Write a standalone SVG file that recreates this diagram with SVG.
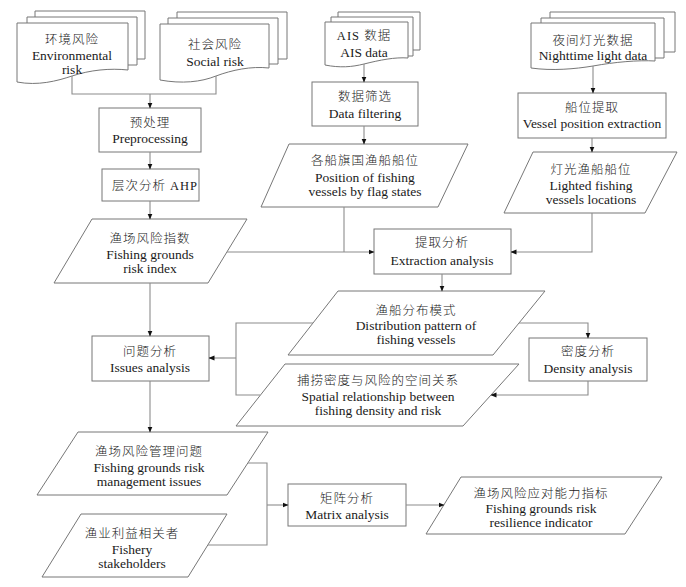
<svg xmlns="http://www.w3.org/2000/svg" width="686" height="587" viewBox="0 0 686 587">
<defs>
<marker id="ah" markerWidth="6" markerHeight="6" refX="5.5" refY="3" orient="auto" markerUnits="userSpaceOnUse">
<path d="M0,0.5 L6,3 L0,5.5 Z" fill="#111"/>
</marker>
<style>
.s{fill:#fff;stroke:#777;stroke-width:1}
.p{fill:none;stroke:#777;stroke-width:1}
.c{fill:none;stroke:#8c8c8c;stroke-width:1.1}
.a{marker-end:url(#ah)}
text{fill:#1a1a1a;text-anchor:middle;dominant-baseline:central}
.cn{font-family:"Liberation Serif","Noto Sans CJK SC",serif;font-size:12.5px;letter-spacing:1px;font-weight:300}
.en{font-family:"Liberation Serif","Noto Sans CJK SC",serif;font-size:13.5px}
</style>
</defs>
<rect width="686" height="587" fill="#fff"/>

<g id="env">
<path class="p" d="M35,17 V11 H145 V59 H137"/>
<path class="p" d="M27,23 V17 H137 V65 H128"/>
<path class="s" d="M17,23 H128 V70 C110,68 90,70 72,76 C57,81 38,86 17,82 Z"/>
<text class="cn" x="72" y="40">环境风险</text>
<text class="en" x="72" y="55">Environmental</text>
<text class="en" x="72" y="69">risk</text>
</g>

<g id="social">
<path class="p" d="M177,18 V12 H287 V59 H278"/>
<path class="p" d="M168,24 V18 H278 V64 H269"/>
<path class="s" d="M160,24 H269 V68 C251,66 232,70 216,76 C201,82 182,84 160,80 Z"/>
<text class="cn" x="215" y="45">社会风险</text>
<text class="en" x="215" y="61">Social risk</text>
</g>

<g id="ais">
<path class="p" d="M338,17 V12 H420 V50 H413"/>
<path class="p" d="M331,22 V17 H413 V56 H408"/>
<path class="s" d="M325,22 H408 V58 C395,57 380,60 364,64 C352,67 340,68 325,65 Z"/>
<text class="cn" x="364" y="36">AIS 数据</text>
<text class="en" x="364" y="52">AIS data</text>
</g>

<g id="night">
<path class="p" d="M550,18 V12 H675 V52 H664"/>
<path class="p" d="M541,23 V18 H664 V58 H655"/>
<path class="s" d="M531,23 H655 V61 C638,60 615,62 593,66 C575,69 552,71 531,68 Z"/>
<text class="cn" x="593" y="41">夜间灯光数据</text>
<text class="en" x="593" y="55">Nighttime light data</text>
</g>

<g id="preprocessing">
<rect class="s" x="99" y="108" width="102" height="44"/>
<text class="cn" x="150" y="123">预处理</text>
<text class="en" x="150" y="138">Preprocessing</text>
</g>

<g id="ahp">
<rect class="s" x="102" y="169" width="97" height="32"/>
<text class="cn" x="155" y="186">层次分析 AHP</text>
</g>

<g id="riskindex">
<polygon class="s" points="92,219 247,219 208,283 54,283"/>
<text class="cn" x="150" y="239">渔场风险指数</text>
<text class="en" x="150" y="254">Fishing grounds</text>
<text class="en" x="150" y="268">risk index</text>
</g>

<g id="datafilter">
<rect class="s" x="312" y="82" width="106" height="44"/>
<text class="cn" x="365" y="97">数据筛选</text>
<text class="en" x="365" y="113">Data filtering</text>
</g>

<g id="position">
<polygon class="s" points="289,144 468,144 438,207 261,207"/>
<text class="cn" x="365" y="161">各船旗国渔船船位</text>
<text class="en" x="365" y="177">Position of fishing</text>
<text class="en" x="365" y="191">vessels by flag states</text>
</g>

<g id="vesselpos">
<rect class="s" x="518" y="93" width="148" height="45"/>
<text class="cn" x="592" y="108">船位提取</text>
<text class="en" x="592" y="123">Vessel position extraction</text>
</g>

<g id="lighted">
<polygon class="s" points="533,152 677,152 645,213 504,213"/>
<text class="cn" x="591" y="170">灯光渔船船位</text>
<text class="en" x="591" y="185">Lighted fishing</text>
<text class="en" x="591" y="199">vessels locations</text>
</g>

<g id="extraction">
<rect class="s" x="374" y="229" width="137" height="45"/>
<text class="cn" x="442" y="243">提取分析</text>
<text class="en" x="442" y="260">Extraction analysis</text>
</g>

<g id="distribution">
<polygon class="s" points="338,291 545,291 493,355 288,355"/>
<text class="cn" x="416" y="311">渔船分布模式</text>
<text class="en" x="416" y="325">Distribution pattern of</text>
<text class="en" x="416" y="339">fishing vessels</text>
</g>

<g id="density">
<rect class="s" x="529" y="338" width="118" height="43"/>
<text class="cn" x="588" y="352">密度分析</text>
<text class="en" x="588" y="368">Density analysis</text>
</g>

<g id="spatial">
<polygon class="s" points="285,364 519,364 463,426 236,426"/>
<text class="cn" x="378" y="381">捕捞密度与风险的空间关系</text>
<text class="en" x="378" y="396">Spatial relationship between</text>
<text class="en" x="378" y="410">fishing density and risk</text>
</g>

<g id="issues">
<rect class="s" x="92" y="336" width="117" height="45"/>
<text class="cn" x="150" y="352">问题分析</text>
<text class="en" x="150" y="367">Issues analysis</text>
</g>

<g id="management">
<polygon class="s" points="78,432 268,432 227,495 37,495"/>
<text class="cn" x="149" y="452">渔场风险管理问题</text>
<text class="en" x="149" y="467">Fishing grounds risk</text>
<text class="en" x="149" y="481">management issues</text>
</g>

<g id="stakeholders">
<polygon class="s" points="81,514 227,514 188,577 42,577"/>
<text class="cn" x="132" y="534">渔业利益相关者</text>
<text class="en" x="132" y="549">Fishery</text>
<text class="en" x="132" y="563">stakeholders</text>
</g>

<g id="matrix">
<rect class="s" x="288" y="484" width="118" height="42"/>
<text class="cn" x="347" y="499">矩阵分析</text>
<text class="en" x="347" y="514">Matrix analysis</text>
</g>

<g id="resilience">
<polygon class="s" points="461,477 662,477 625,534 426,534"/>
<text class="cn" x="541" y="494">渔场风险应对能力指标</text>
<text class="en" x="541" y="508">Fishing grounds risk</text>
<text class="en" x="541" y="522">resilience indicator</text>
</g>

<g id="connectors">
<path class="c" d="M72,76 V94 H216 V76"/>
<path class="c a" d="M150,94 V108"/>
<path class="c a" d="M150,152 V169"/>
<path class="c a" d="M150,201 V219"/>
<path class="c a" d="M150,283 V336"/>
<path class="c a" d="M150,381 V432"/>
<path class="c a" d="M364,64 V82"/>
<path class="c a" d="M364,126 V144"/>
<path class="c" d="M344,207 V252"/>
<path class="c a" d="M227,252 H374"/>
<path class="c a" d="M593,66 V93"/>
<path class="c a" d="M592,138 V152"/>
<path class="c a" d="M592,213 V252 H511"/>
<path class="c a" d="M442,274 V291"/>
<path class="c a" d="M519,323 H588 V338"/>
<path class="c a" d="M588,381 V395 H491"/>
<path class="c" d="M313,323 H236 V395 H260"/>
<path class="c a" d="M236,358 H209"/>
<path class="c" d="M248,463 H267 V545 H208"/>
<path class="c a" d="M267,505 H288"/>
<path class="c a" d="M406,505 H444"/>
</g>
</svg>
